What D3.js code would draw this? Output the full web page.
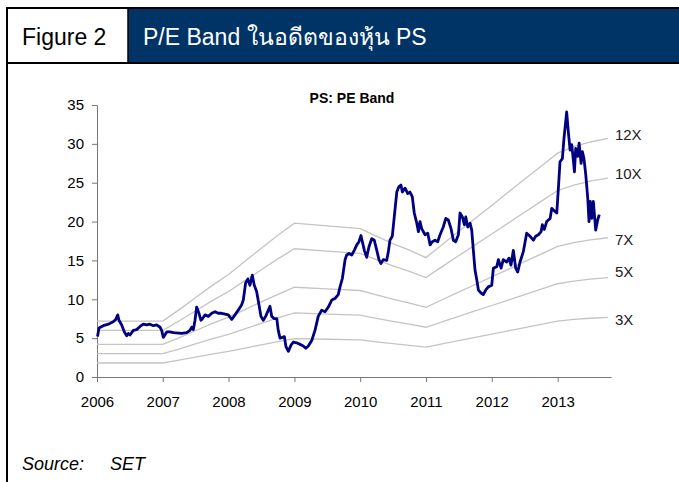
<!DOCTYPE html>
<html>
<head>
<meta charset="utf-8">
<script src="https://cdn.jsdelivr.net/npm/d3@7"></script>
<style>
  body { margin: 0; background: #fff; }
  svg { display: block; font-family: Arial, "Liberation Sans", sans-serif; }
</style>
</head>
<body>
<svg></svg>
<script>
// PE of PS (date, PE)
var peDates = ["2006-01-04","2006-01-12","2006-02-05","2006-03-05","2006-04-01","2006-04-15","2006-04-26","2006-05-03","2006-05-18","2006-06-02",
  "2006-06-15","2006-06-24","2006-07-03","2006-07-22","2006-08-09","2006-08-28","2006-09-15","2006-10-04","2006-10-22","2006-11-10",
  "2006-11-28","2006-12-17","2006-12-26","2007-01-04","2007-01-13","2007-01-23","2007-02-10","2007-03-01","2007-04-16","2007-05-14",
  "2007-06-01","2007-06-11","2007-06-20","2007-06-29","2007-07-08","2007-07-21","2007-08-01","2007-08-09","2007-08-24","2007-09-11",
  "2007-09-30","2007-10-18","2007-11-05","2007-11-24","2007-12-13","2007-12-31","2008-01-19","2008-02-06","2008-02-24","2008-03-14",
  "2008-03-23","2008-04-05","2008-04-17","2008-04-29","2008-05-12","2008-05-23","2008-06-05","2008-06-18","2008-06-29","2008-07-12",
  "2008-07-25","2008-08-09","2008-08-18","2008-08-28","2008-09-11","2008-09-25","2008-10-03","2008-10-13","2008-10-26","2008-11-06",
  "2008-11-15","2008-11-28","2008-12-13","2008-12-26","2009-01-13","2009-02-01","2009-02-19","2009-03-05","2009-03-19","2009-04-07",
  "2009-04-25","2009-05-13","2009-06-01","2009-06-20","2009-07-08","2009-07-27","2009-08-14","2009-09-01","2009-09-11","2009-09-24",
  "2009-10-09","2009-10-18","2009-10-31","2009-11-15","2009-11-29","2009-12-13","2009-12-25","2010-01-05","2010-01-13","2010-01-24",
  "2010-02-06","2010-02-19","2010-03-06","2010-03-20","2010-04-03","2010-04-15","2010-04-26","2010-05-09","2010-05-28","2010-06-06",
  "2010-06-15","2010-06-28","2010-07-09","2010-07-23","2010-08-04","2010-08-15","2010-08-23","2010-09-07","2010-09-22","2010-10-04",
  "2010-10-17","2010-10-28","2010-11-11","2010-11-20","2010-11-29","2010-12-08","2010-12-27","2011-01-11","2011-01-24","2011-02-05",
  "2011-02-20","2011-03-07","2011-03-20","2011-04-07","2011-04-21","2011-05-05","2011-05-20","2011-06-02","2011-06-15","2011-06-30",
  "2011-07-09","2011-07-22","2011-08-02","2011-08-10","2011-08-21","2011-09-03","2011-09-12","2011-09-21","2011-09-30","2011-10-10",
  "2011-10-19","2011-11-03","2011-11-15","2011-11-29","2011-12-13","2012-01-01","2012-01-10","2012-01-29","2012-02-07","2012-02-22",
  "2012-03-05","2012-03-24","2012-04-06","2012-04-17","2012-04-30","2012-05-13","2012-05-24","2012-06-06","2012-06-24","2012-07-13",
  "2012-08-01","2012-08-19","2012-09-01","2012-09-16","2012-10-01","2012-10-08","2012-10-19","2012-11-01","2012-11-20","2012-11-29",
  "2012-12-17","2012-12-27","2013-01-05","2013-01-14","2013-01-27","2013-02-05","2013-02-20","2013-03-01","2013-03-11","2013-03-20",
  "2013-03-29","2013-04-04","2013-04-11","2013-04-22","2013-04-30","2013-05-11","2013-05-18","2013-05-27","2013-06-06","2013-06-17",
  "2013-06-24","2013-07-01","2013-07-09","2013-07-18","2013-07-31","2013-08-11","2013-08-20"];
var peValues = [5.2,6.3,6.6,6.8,7.1,7.4,8.0,7.3,6.7,5.8,
  5.3,5.6,5.4,6.0,6.1,6.5,6.8,6.7,6.8,6.6,
  6.7,6.4,6.0,5.1,5.4,5.8,5.8,5.7,5.6,5.7,
  6.0,6.4,6.1,7.3,9.0,8.2,7.3,7.5,8.0,7.8,
  8.2,8.4,8.2,8.2,8.1,8.0,7.4,8.0,8.6,9.3,
  9.9,12.1,12.6,11.8,13.1,11.8,11.0,9.3,7.8,7.3,
  7.8,8.6,9.1,7.8,7.5,7.5,6.0,5.0,5.1,5.2,
  3.9,3.3,4.1,4.5,4.4,4.2,4.0,3.7,4.0,4.7,
  6.0,7.8,8.6,8.4,9.0,9.9,10.1,10.6,11.6,12.7,
  15.1,15.7,15.9,15.7,16.3,17.0,17.4,18.2,17.4,16.3,
  15.4,16.8,17.8,17.6,16.3,15.1,14.6,15.1,15.0,16.1,
  17.6,18.1,20.6,23.8,24.5,24.7,23.8,24.3,23.6,23.8,
  23.2,21.1,19.8,18.7,20.0,19.1,18.3,18.5,17.0,17.4,
  17.6,17.4,18.3,19.3,20.4,20.2,19.1,17.6,17.4,18.3,
  21.1,20.6,19.6,20.6,19.3,19.8,18.9,16.3,13.8,12.5,
  11.2,10.8,10.6,11.2,11.6,11.8,14.0,14.2,15.1,14.0,
  15.1,14.8,15.3,14.4,16.3,14.0,13.5,14.8,16.1,18.5,
  18.1,17.6,18.1,18.3,18.7,19.6,19.0,20.0,20.4,21.7,
  21.3,21.1,24.3,27.7,28.1,30.7,34.1,31.6,29.2,29.9,
  27.9,26.4,29.4,28.4,30.1,27.5,29.0,28.1,26.0,23.0,
  20.0,22.6,20.4,22.6,18.9,20.2,20.9];

// trailing EPS used for the bands
var epsDates = ["2006-01-01","2007-01-01","2007-04-01","2007-07-01","2007-10-01","2008-01-01","2008-04-01","2008-07-01","2008-10-01",
  "2009-01-01","2009-07-01","2010-01-01","2010-04-01","2010-07-01","2010-10-01","2011-01-01","2011-04-01","2011-07-01","2011-10-01",
  "2012-01-01","2012-04-01","2012-07-01","2012-10-01","2013-01-01","2013-04-01","2013-07-01","2013-10-07"];
var epsValues = [0.60,0.60,0.72,0.85,0.98,1.10,1.24,1.38,1.52,
  1.65,1.62,1.59,1.51,1.43,1.36,1.28,1.42,1.56,1.70,
  1.84,1.98,2.12,2.26,2.40,2.47,2.52,2.56];

var bandMultiples = [12, 10, 7, 5, 3];
var bandLabels = ["12X", "10X", "7X", "5X", "3X"];
var yTicks = [0, 5, 10, 15, 20, 25, 30, 35];

var svgWidth = 679, svgHeight = 482;
var margin = {top: 105, right: 68, bottom: 105, left: 97};
var parse = d3.timeParse("%Y-%m-%d");

var svg = d3.select("svg")
            .attr("width", svgWidth)
            .attr("height", svgHeight);

// frame + header
svg.append("rect").attr("x", 128).attr("y", 9).attr("width", 551).attr("height", 53).attr("fill", "#003366");
svg.append("line").attr("x1", 6).attr("x2", 679).attr("y1", 8).attr("y2", 8).attr("stroke", "#000").attr("stroke-width", 2);
svg.append("line").attr("x1", 6).attr("x2", 679).attr("y1", 63).attr("y2", 63).attr("stroke", "#000").attr("stroke-width", 2);
svg.append("line").attr("x1", 7).attr("x2", 7).attr("y1", 7).attr("y2", 482).attr("stroke", "#000").attr("stroke-width", 2);
svg.append("line").attr("x1", 128).attr("x2", 128).attr("y1", 8).attr("y2", 63).attr("stroke", "#000").attr("stroke-width", 1.5);

svg.append("text").attr("x", 22).attr("y", 45).attr("font-size", 23).attr("fill", "#000").text("Figure 2");
svg.append("text").attr("x", 143).attr("y", 45).attr("font-size", 23).attr("fill", "#fff").text("P/E Band ในอดีตของหุ้น PS");

svg.append("text").attr("x", 22).attr("y", 470).attr("font-size", 18).attr("font-style", "italic").attr("fill", "#000")
   .text("Source:");
svg.append("text").attr("x", 110).attr("y", 470).attr("font-size", 18).attr("font-style", "italic").attr("fill", "#000")
   .text("SET");

var x = d3.scaleTime()
          .domain([parse("2006-01-01"), parse("2013-10-24")])
          .range([margin.left, svgWidth - margin.right]);
var y = d3.scaleLinear()
          .domain([0, 35])
          .range([svgHeight - margin.bottom, margin.top]);

svg.append("text").attr("x", 352).attr("y", 103).attr("text-anchor", "middle")
   .attr("font-size", 14).attr("font-weight", "bold").text("PS: PE Band");

// axes
var yAxis = svg.append("g")
               .attr("transform", "translate(" + margin.left + ",0)")
               .call(d3.axisLeft(y).tickValues(yTicks).tickSize(5).tickSizeOuter(0).tickPadding(8));
var xAxis = svg.append("g")
               .attr("transform", "translate(0," + (svgHeight - margin.bottom) + ")")
               .call(d3.axisBottom(x).ticks(d3.timeYear.every(1)).tickFormat(d3.timeFormat("%Y"))
                       .tickSize(5).tickSizeOuter(0).tickPadding(14));
svg.selectAll(".domain, .tick line").attr("stroke", "#777");
svg.selectAll(".tick text").attr("font-size", 15).attr("font-family", "Arial, 'Liberation Sans', sans-serif").attr("fill", "#000");

// bands
var eps = epsDates.map(function(d, i) { return {date: parse(d), eps: epsValues[i]}; });
var labelNudge = [-4, -4, 2, -6, 2];
bandMultiples.forEach(function(m, i) {
  var band = d3.line()
               .x(function(d) { return x(d.date); })
               .y(function(d) { return y(d.eps * m); });
  svg.append("path")
     .datum(eps)
     .attr("d", band)
     .attr("fill", "none")
     .attr("stroke", "#c4c4c4")
     .attr("stroke-width", 1.3);
  var last = eps[eps.length - 1];
  svg.append("text")
     .attr("x", x(last.date) + 7)
     .attr("y", y(last.eps * m) + labelNudge[i])
     .attr("dy", "0.35em")
     .attr("font-size", 15)
     .attr("fill", "#222")
     .text(bandLabels[i]);
});

// PE line
var pe = peDates.map(function(d, i) { return {date: parse(d), pe: peValues[i]}; });
svg.append("path")
   .datum(pe)
   .attr("d", d3.line().x(function(d) { return x(d.date); }).y(function(d) { return y(d.pe); }))
   .attr("fill", "none")
   .attr("stroke", "#000080")
   .attr("stroke-width", 2.8)
   .attr("stroke-linejoin", "round");
</script>
</body>
</html>
